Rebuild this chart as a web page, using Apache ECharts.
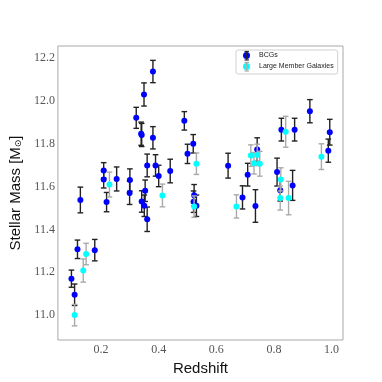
<!DOCTYPE html>
<html>
<head>
<meta charset="utf-8">
<script src="https://cdn.jsdelivr.net/npm/echarts@6/dist/echarts.min.js"></script>
<style>
html,body{margin:0;padding:0;background:#fff;}
#main{width:382px;height:382px;}
</style>
</head>
<body>
<div id="main"></div>
<script>

/********** 数据 ********** */
var bcgZ    = [0.097,0.108,0.118,0.128,0.178,0.209,0.209,0.219,0.254,0.300,0.299,0.322,0.339,0.341,0.349,0.341,0.350,0.353,0.360,0.360,0.380,0.380,0.389,0.400,0.440,0.489,0.500,0.520,0.523,0.521,0.531,0.641,0.691,0.709,0.736,0.742,0.811,0.822,0.826,0.865,0.872,0.925,0.989,0.994];
var bcgMass = [11.170,11.095,11.307,11.537,11.303,11.675,11.633,11.527,11.635,11.630,11.570,11.920,11.846,11.840,12.029,11.530,11.510,11.580,11.447,11.698,12.136,11.827,11.698,11.649,11.672,11.906,11.752,11.799,11.559,11.529,11.510,11.697,11.549,11.655,11.509,11.772,11.667,11.582,11.865,11.605,11.865,11.951,11.767,11.853];
var bcgErr  = [0.040,0.050,0.043,0.060,0.050,0.036,0.040,0.045,0.056,0.052,0.054,0.049,0.054,0.054,0.054,0.050,0.050,0.050,0.057,0.053,0.052,0.052,0.050,0.050,0.055,0.043,0.045,0.043,0.050,0.050,0.050,0.058,0.054,0.053,0.076,0.055,0.065,0.050,0.053,0.070,0.053,0.054,0.054,0.060];

var memZ    = [0.108,0.138,0.148,0.229,0.413,0.523,0.531,0.670,0.720,0.731,0.742,0.751,0.824,0.822,0.851,0.841,0.965];
var memMass = [11.000,11.208,11.285,11.609,11.558,11.506,11.706,11.507,11.744,11.708,11.747,11.706,11.633,11.546,11.546,11.855,11.739];
var memErr  = [0.050,0.054,0.050,0.058,0.053,0.050,0.050,0.054,0.050,0.050,0.050,0.058,0.054,0.056,0.078,0.072,0.060];

var xTicks = [0.2,0.4,0.6,0.8,1.0];
var yTicks = [11.0,11.2,11.4,11.6,11.8,12.0,12.2];

var seriesNames = ["BCGs","Large Member Galaxies"];


function toPoints(xs,ys,es){
    var arr = [];
    for(var i=0;i<xs.length;i++){
        arr.push([xs[i],ys[i],es[i]]);
    }
    return arr;
}


/********* 误差线 ********* */
function errorBar(color){
    return function(params,api){
        var x = api.value(0), y = api.value(1), e = api.value(2);
        var lo = api.coord([x,y-e]);
        var hi = api.coord([x,y+e]);
        var cap = 2.8;
        var style = {stroke:color,lineWidth:1.4};
        return {
            type:"group",
            children:[
                {type:"line",shape:{x1:lo[0],y1:lo[1],x2:hi[0],y2:hi[1]},style:style},
                {type:"line",shape:{x1:lo[0]-cap,y1:lo[1],x2:lo[0]+cap,y2:lo[1]},style:style},
                {type:"line",shape:{x1:hi[0]-cap,y1:hi[1],x2:hi[0]+cap,y2:hi[1]},style:style}
            ]
        };
    };
}

var bcgData = toPoints(bcgZ,bcgMass,bcgErr);
var memData = toPoints(memZ,memMass,memErr);

var tickFont = {fontFamily:"Liberation Serif",fontSize:12,color:"#555"};

var myChart = echarts.init(document.getElementById("main"),null,{renderer:"canvas"});

option = {
    animation : false,

    grid : {left:47,right:39,top:46,bottom:42,show:true,borderColor:"#a8a8a8",borderWidth:1,backgroundColor:"transparent"},

    legend : {
        left : 236,
        top : 50,
        orient : "vertical",
        data : seriesNames,
        icon : "circle",
        itemWidth : 7,
        itemHeight : 7,
        itemGap : 4,
        padding : [2,4,4,7],
        borderColor : "#d0d0d0",
        borderWidth : 1,
        borderRadius : 2,
        backgroundColor : "rgba(255,255,255,0.8)",
        textStyle : {fontFamily:"Liberation Sans",fontSize:7,color:"#222",padding:[0,0,0,4]}
    },

    graphic : [
        {type:"line",z:100,shape:{x1:246.7,y1:51.5,x2:246.7,y2:60},style:{stroke:"#222",lineWidth:1.2}},
        {type:"line",z:100,shape:{x1:244.5,y1:51.5,x2:248.9,y2:51.5},style:{stroke:"#222",lineWidth:1.2}},
        {type:"line",z:100,shape:{x1:244.5,y1:60,x2:248.9,y2:60},style:{stroke:"#222",lineWidth:1.2}},
        {type:"line",z:100,shape:{x1:246.7,y1:62.5,x2:246.7,y2:71},style:{stroke:"#aaa",lineWidth:1.2}},
        {type:"line",z:100,shape:{x1:244.5,y1:62.5,x2:248.9,y2:62.5},style:{stroke:"#aaa",lineWidth:1.2}},
        {type:"line",z:100,shape:{x1:244.5,y1:71,x2:248.9,y2:71},style:{stroke:"#aaa",lineWidth:1.2}}
    ],

    xAxis : {
        type : "value",
        min : 0.05,
        max : 1.04,
        name : "Redshift",
        nameLocation : "middle",
        nameGap : 19,
        nameTextStyle : {fontFamily:"Liberation Sans",fontSize:15,color:"#111"},
        axisLine : {show:false},
        axisTick : {show:false},
        splitLine : {show:false},
        axisLabel : {
            customValues : xTicks,
            margin : 4,
            formatter : function(v){ return v.toFixed(1); },
            fontFamily : tickFont.fontFamily,
            fontSize : tickFont.fontSize,
            color : tickFont.color
        }
    },

    yAxis : {
        type : "value",
        min : 10.884,
        max : 12.255,
        name : "Stellar Mass [M{sub|⊙}]",
        nameLocation : "middle",
        nameGap : 30,
        nameRotate : 90,
        nameTextStyle : {
            fontFamily:"Liberation Sans",fontSize:15,color:"#111",
            rich : {sub:{fontFamily:"DejaVu Sans",fontSize:9,color:"#111",verticalAlign:"bottom",padding:[6,0,0,0]}}
        },
        axisLine : {show:false},
        axisTick : {show:false},
        splitLine : {show:false},
        axisLabel : {
            customValues : yTicks,
            margin : 3,
            formatter : function(v){ return v.toFixed(1); },
            fontFamily : tickFont.fontFamily,
            fontSize : tickFont.fontSize,
            color : tickFont.color
        }
    },

    series : [
        {
            type : "custom",
            name : "bcgErr",
            z : 1,
            renderItem : errorBar("#222"),
            data : bcgData,
            encode : {x:0,y:1},
            silent : true
        },
        {
            type : "scatter",
            name : seriesNames[0],
            z : 2,
            symbolSize : 6,
            data : bcgData,
            itemStyle : {color:"#0000ff",opacity:1}
        },
        {
            type : "custom",
            name : "memErr",
            z : 3,
            renderItem : errorBar("#aaaaaa"),
            data : memData,
            encode : {x:0,y:1},
            silent : true
        },
        {
            type : "scatter",
            name : seriesNames[1],
            z : 4,
            symbolSize : 6,
            data : memData,
            itemStyle : {color:"#00ffff",opacity:1}
        }
    ]
};

myChart.setOption(option);

</script>
</body>
</html>
